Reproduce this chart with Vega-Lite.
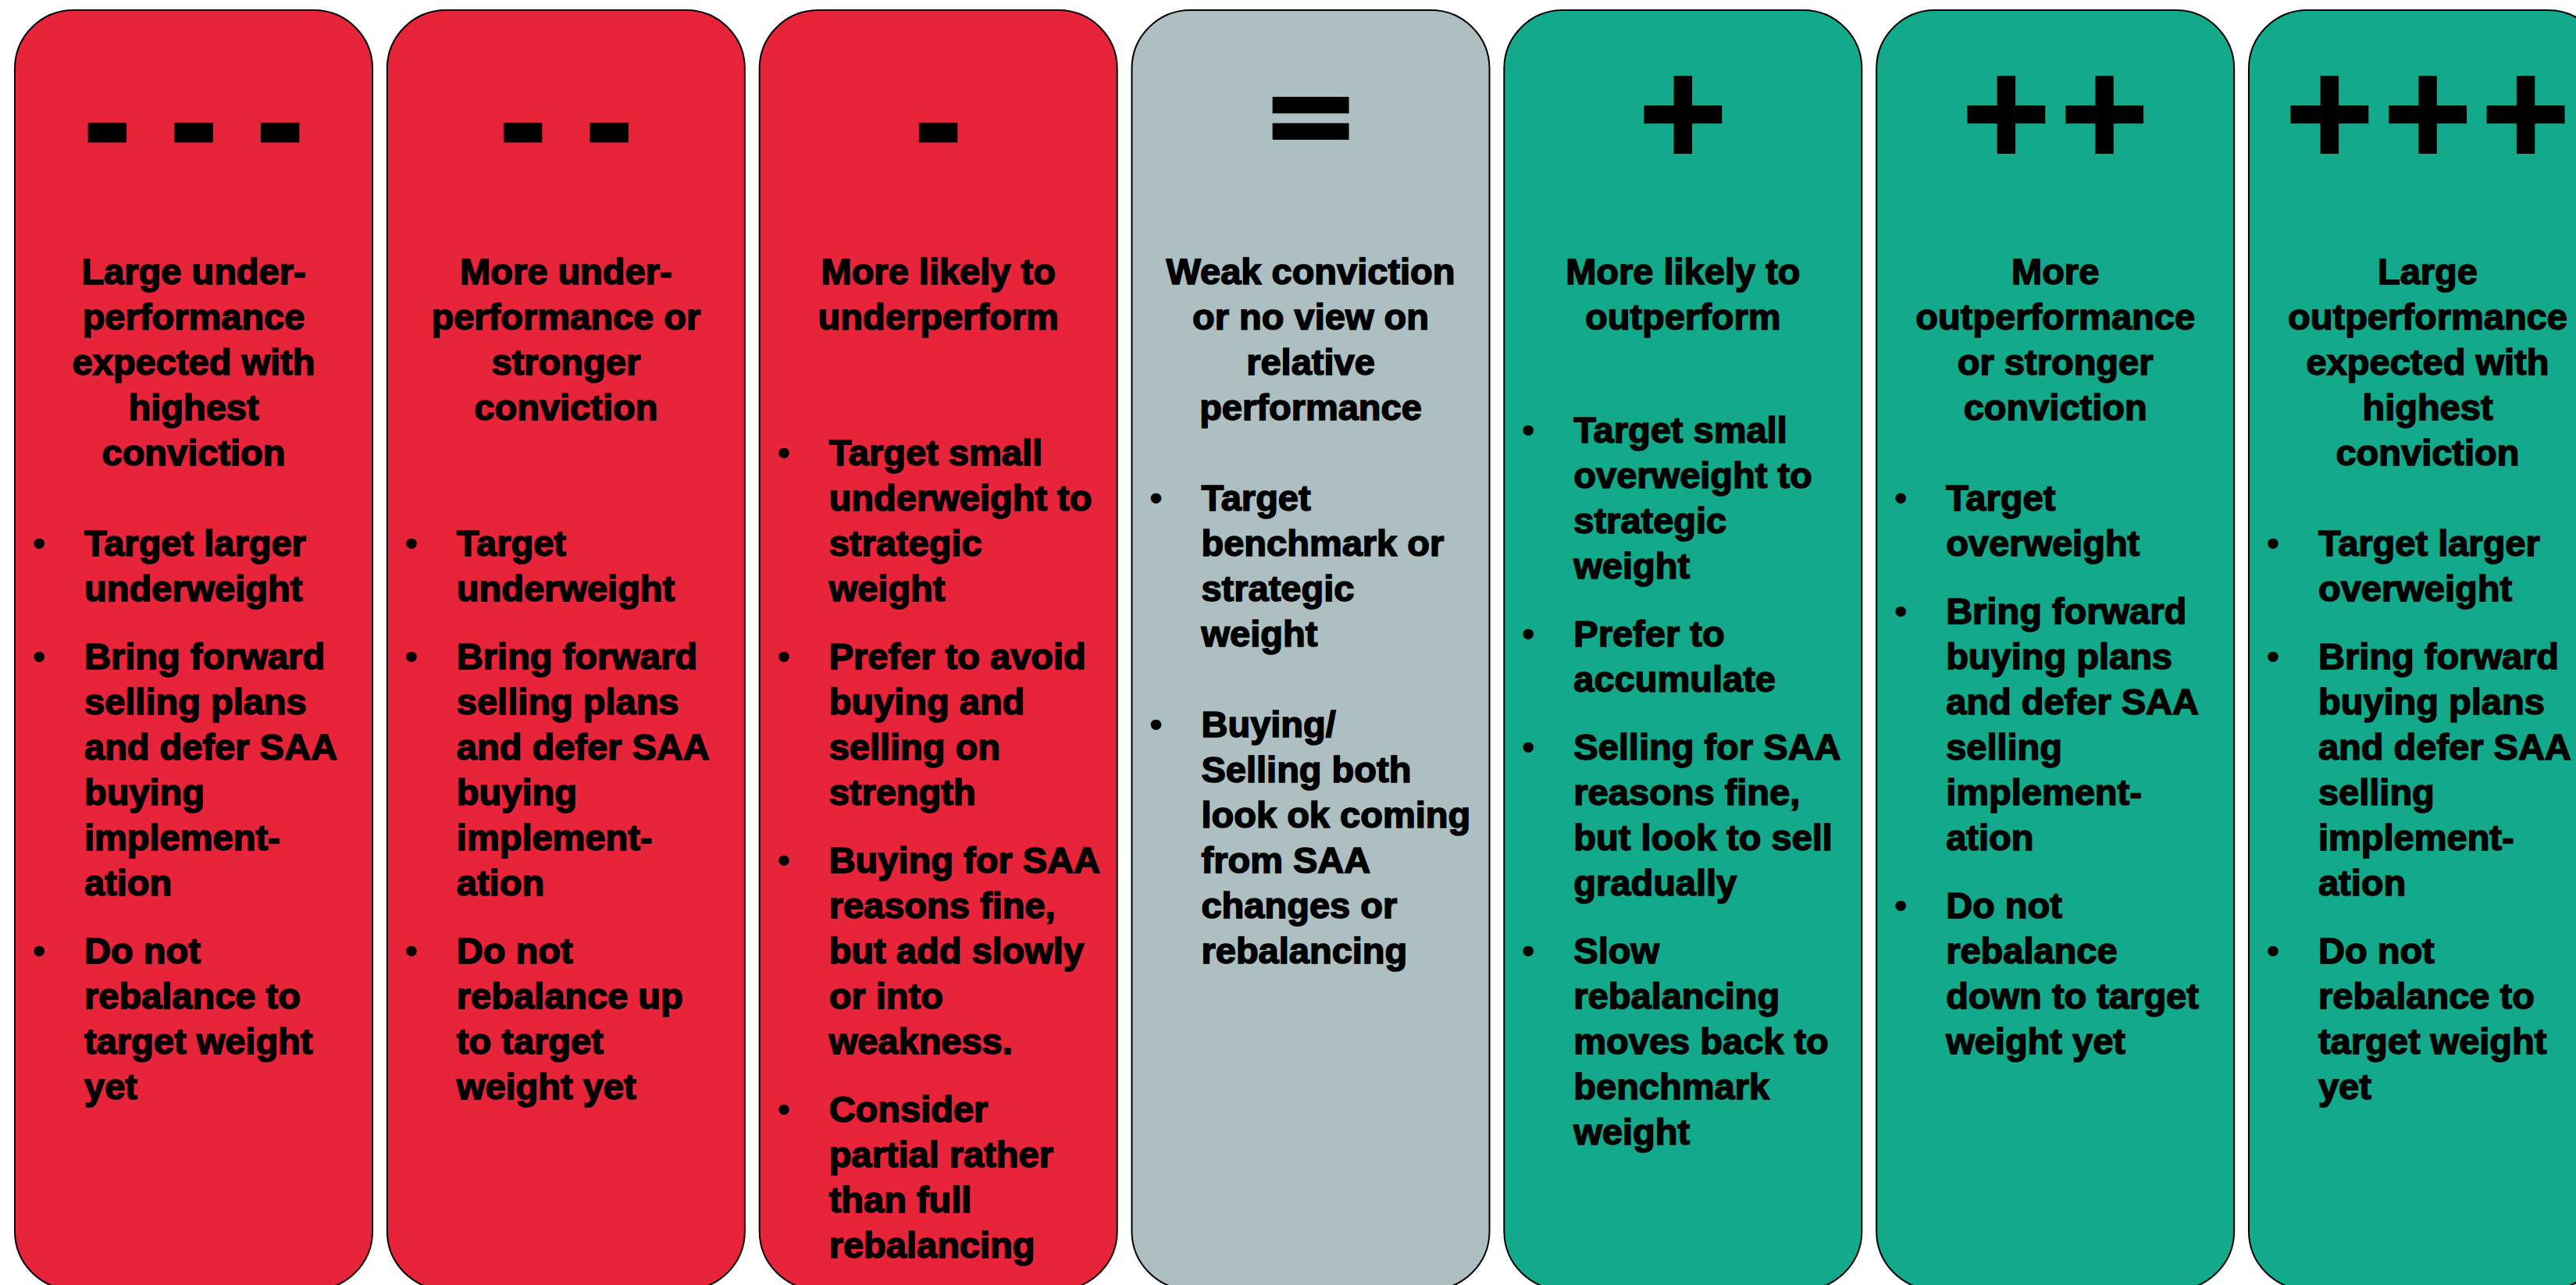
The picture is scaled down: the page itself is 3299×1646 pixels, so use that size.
{
  "$schema": "https://vega.github.io/schema/vega-lite/v6.json",
  "width": 3299,
  "height": 1646,
  "padding": 0,
  "autosize": {"type": "none"},
  "background": "white",
  "config": {"view": {"stroke": null}},
  "datasets": {
    "columns": [
      {"col": "- - -", "tone": "negative"},
      {"col": "- -", "tone": "negative"},
      {"col": "-", "tone": "negative"},
      {"col": "=", "tone": "neutral"},
      {"col": "+", "tone": "positive"},
      {"col": "++", "tone": "positive"},
      {"col": "+++", "tone": "positive"}
    ],
    "lines": [
      {"col": "- - -", "role": "head", "line": 0, "text": "Large under-"},
      {"col": "- - -", "role": "head", "line": 1, "text": "performance"},
      {"col": "- - -", "role": "head", "line": 2, "text": "expected with"},
      {"col": "- - -", "role": "head", "line": 3, "text": "highest"},
      {"col": "- - -", "role": "head", "line": 4, "text": "conviction"},
      {"col": "- - -", "role": "bullet", "start": true, "line": 6, "text": "Target larger"},
      {"col": "- - -", "role": "bullet", "line": 7, "text": "underweight"},
      {"col": "- - -", "role": "bullet", "start": true, "line": 8.5, "text": "Bring forward"},
      {"col": "- - -", "role": "bullet", "line": 9.5, "text": "selling plans"},
      {"col": "- - -", "role": "bullet", "line": 10.5, "text": "and defer SAA"},
      {"col": "- - -", "role": "bullet", "line": 11.5, "text": "buying"},
      {"col": "- - -", "role": "bullet", "line": 12.5, "text": "implement-"},
      {"col": "- - -", "role": "bullet", "line": 13.5, "text": "ation"},
      {"col": "- - -", "role": "bullet", "start": true, "line": 15, "text": "Do not"},
      {"col": "- - -", "role": "bullet", "line": 16, "text": "rebalance to"},
      {"col": "- - -", "role": "bullet", "line": 17, "text": "target weight"},
      {"col": "- - -", "role": "bullet", "line": 18, "text": "yet"},

      {"col": "- -", "role": "head", "line": 0, "text": "More under-"},
      {"col": "- -", "role": "head", "line": 1, "text": "performance or"},
      {"col": "- -", "role": "head", "line": 2, "text": "stronger"},
      {"col": "- -", "role": "head", "line": 3, "text": "conviction"},
      {"col": "- -", "role": "bullet", "start": true, "line": 6, "text": "Target"},
      {"col": "- -", "role": "bullet", "line": 7, "text": "underweight"},
      {"col": "- -", "role": "bullet", "start": true, "line": 8.5, "text": "Bring forward"},
      {"col": "- -", "role": "bullet", "line": 9.5, "text": "selling plans"},
      {"col": "- -", "role": "bullet", "line": 10.5, "text": "and defer SAA"},
      {"col": "- -", "role": "bullet", "line": 11.5, "text": "buying"},
      {"col": "- -", "role": "bullet", "line": 12.5, "text": "implement-"},
      {"col": "- -", "role": "bullet", "line": 13.5, "text": "ation"},
      {"col": "- -", "role": "bullet", "start": true, "line": 15, "text": "Do not"},
      {"col": "- -", "role": "bullet", "line": 16, "text": "rebalance up"},
      {"col": "- -", "role": "bullet", "line": 17, "text": "to target"},
      {"col": "- -", "role": "bullet", "line": 18, "text": "weight yet"},

      {"col": "-", "role": "head", "line": 0, "text": "More likely to"},
      {"col": "-", "role": "head", "line": 1, "text": "underperform"},
      {"col": "-", "role": "bullet", "start": true, "line": 4, "text": "Target small"},
      {"col": "-", "role": "bullet", "line": 5, "text": "underweight to"},
      {"col": "-", "role": "bullet", "line": 6, "text": "strategic"},
      {"col": "-", "role": "bullet", "line": 7, "text": "weight"},
      {"col": "-", "role": "bullet", "start": true, "line": 8.5, "text": "Prefer to avoid"},
      {"col": "-", "role": "bullet", "line": 9.5, "text": "buying and"},
      {"col": "-", "role": "bullet", "line": 10.5, "text": "selling on"},
      {"col": "-", "role": "bullet", "line": 11.5, "text": "strength"},
      {"col": "-", "role": "bullet", "start": true, "line": 13, "text": "Buying for SAA"},
      {"col": "-", "role": "bullet", "line": 14, "text": "reasons fine,"},
      {"col": "-", "role": "bullet", "line": 15, "text": "but add slowly"},
      {"col": "-", "role": "bullet", "line": 16, "text": "or into"},
      {"col": "-", "role": "bullet", "line": 17, "text": "weakness."},
      {"col": "-", "role": "bullet", "start": true, "line": 18.5, "text": "Consider"},
      {"col": "-", "role": "bullet", "line": 19.5, "text": "partial rather"},
      {"col": "-", "role": "bullet", "line": 20.5, "text": "than full"},
      {"col": "-", "role": "bullet", "line": 21.5, "text": "rebalancing"},

      {"col": "=", "role": "head", "line": 0, "text": "Weak conviction"},
      {"col": "=", "role": "head", "line": 1, "text": "or no view on"},
      {"col": "=", "role": "head", "line": 2, "text": "relative"},
      {"col": "=", "role": "head", "line": 3, "text": "performance"},
      {"col": "=", "role": "bullet", "start": true, "line": 5, "text": "Target"},
      {"col": "=", "role": "bullet", "line": 6, "text": "benchmark or"},
      {"col": "=", "role": "bullet", "line": 7, "text": "strategic"},
      {"col": "=", "role": "bullet", "line": 8, "text": "weight"},
      {"col": "=", "role": "bullet", "start": true, "line": 10, "text": "Buying/"},
      {"col": "=", "role": "bullet", "line": 11, "text": "Selling both"},
      {"col": "=", "role": "bullet", "line": 12, "text": "look ok coming"},
      {"col": "=", "role": "bullet", "line": 13, "text": "from SAA"},
      {"col": "=", "role": "bullet", "line": 14, "text": "changes or"},
      {"col": "=", "role": "bullet", "line": 15, "text": "rebalancing"},

      {"col": "+", "role": "head", "line": 0, "text": "More likely to"},
      {"col": "+", "role": "head", "line": 1, "text": "outperform"},
      {"col": "+", "role": "bullet", "start": true, "line": 3.5, "text": "Target small"},
      {"col": "+", "role": "bullet", "line": 4.5, "text": "overweight to"},
      {"col": "+", "role": "bullet", "line": 5.5, "text": "strategic"},
      {"col": "+", "role": "bullet", "line": 6.5, "text": "weight"},
      {"col": "+", "role": "bullet", "start": true, "line": 8, "text": "Prefer to"},
      {"col": "+", "role": "bullet", "line": 9, "text": "accumulate"},
      {"col": "+", "role": "bullet", "start": true, "line": 10.5, "text": "Selling for SAA"},
      {"col": "+", "role": "bullet", "line": 11.5, "text": "reasons fine,"},
      {"col": "+", "role": "bullet", "line": 12.5, "text": "but look to sell"},
      {"col": "+", "role": "bullet", "line": 13.5, "text": "gradually"},
      {"col": "+", "role": "bullet", "start": true, "line": 15, "text": "Slow"},
      {"col": "+", "role": "bullet", "line": 16, "text": "rebalancing"},
      {"col": "+", "role": "bullet", "line": 17, "text": "moves back to"},
      {"col": "+", "role": "bullet", "line": 18, "text": "benchmark"},
      {"col": "+", "role": "bullet", "line": 19, "text": "weight"},

      {"col": "++", "role": "head", "line": 0, "text": "More"},
      {"col": "++", "role": "head", "line": 1, "text": "outperformance"},
      {"col": "++", "role": "head", "line": 2, "text": "or stronger"},
      {"col": "++", "role": "head", "line": 3, "text": "conviction"},
      {"col": "++", "role": "bullet", "start": true, "line": 5, "text": "Target"},
      {"col": "++", "role": "bullet", "line": 6, "text": "overweight"},
      {"col": "++", "role": "bullet", "start": true, "line": 7.5, "text": "Bring forward"},
      {"col": "++", "role": "bullet", "line": 8.5, "text": "buying plans"},
      {"col": "++", "role": "bullet", "line": 9.5, "text": "and defer SAA"},
      {"col": "++", "role": "bullet", "line": 10.5, "text": "selling"},
      {"col": "++", "role": "bullet", "line": 11.5, "text": "implement-"},
      {"col": "++", "role": "bullet", "line": 12.5, "text": "ation"},
      {"col": "++", "role": "bullet", "start": true, "line": 14, "text": "Do not"},
      {"col": "++", "role": "bullet", "line": 15, "text": "rebalance"},
      {"col": "++", "role": "bullet", "line": 16, "text": "down to target"},
      {"col": "++", "role": "bullet", "line": 17, "text": "weight yet"},

      {"col": "+++", "role": "head", "line": 0, "text": "Large"},
      {"col": "+++", "role": "head", "line": 1, "text": "outperformance"},
      {"col": "+++", "role": "head", "line": 2, "text": "expected with"},
      {"col": "+++", "role": "head", "line": 3, "text": "highest"},
      {"col": "+++", "role": "head", "line": 4, "text": "conviction"},
      {"col": "+++", "role": "bullet", "start": true, "line": 6, "text": "Target larger"},
      {"col": "+++", "role": "bullet", "line": 7, "text": "overweight"},
      {"col": "+++", "role": "bullet", "start": true, "line": 8.5, "text": "Bring forward"},
      {"col": "+++", "role": "bullet", "line": 9.5, "text": "buying plans"},
      {"col": "+++", "role": "bullet", "line": 10.5, "text": "and defer SAA"},
      {"col": "+++", "role": "bullet", "line": 11.5, "text": "selling"},
      {"col": "+++", "role": "bullet", "line": 12.5, "text": "implement-"},
      {"col": "+++", "role": "bullet", "line": 13.5, "text": "ation"},
      {"col": "+++", "role": "bullet", "start": true, "line": 15, "text": "Do not"},
      {"col": "+++", "role": "bullet", "line": 16, "text": "rebalance to"},
      {"col": "+++", "role": "bullet", "line": 17, "text": "target weight"},
      {"col": "+++", "role": "bullet", "line": 18, "text": "yet"}
    ]
  },
  "layer": [
    {
      "data": {"name": "columns"},
      "mark": {"type": "rect", "cornerRadius": 75, "stroke": "#000000", "strokeWidth": 2, "clip": true},
      "encoding": {
        "x": {"field": "col", "type": "nominal", "axis": null,
              "scale": {"type": "band", "domain": ["- - -", "- -", "-", "=", "+", "++", "+++"], "range": [19, 3338], "paddingInner": 0.0394, "paddingOuter": 0}},
        "y": {"datum": -6.052, "type": "quantitative", "axis": null,
              "scale": {"domain": [-6.2759, 22.1034], "reverse": true, "nice": false, "zero": false}},
        "y2": {"datum": 22.207},
        "color": {"field": "tone", "type": "nominal", "legend": null,
                  "scale": {"domain": ["negative", "neutral", "positive"], "range": ["#E8243B", "#AEBFC2", "#13A98B"]}}
      }
    },
    {
      "data": {"name": "columns"},
      "transform": [{"filter": "datum.tone === 'negative'"}],
      "mark": {"type": "text", "font": "DejaVu Sans", "fontWeight": "bold", "fontSize": 145, "align": "center", "baseline": "alphabetic", "color": "#000000", "stroke": "#000000", "strokeWidth": 5, "clip": true},
      "encoding": {
        "x": {"field": "col", "type": "nominal"},
        "y": {"datum": -2.63, "type": "quantitative"},
        "text": {"field": "col"}
      }
    },
    {
      "data": {"name": "columns"},
      "transform": [{"filter": "datum.tone === 'neutral'"}],
      "mark": {"type": "text", "font": "DejaVu Sans", "fontWeight": "bold", "fontSize": 150, "align": "center", "baseline": "alphabetic", "color": "#000000", "stroke": "#000000", "strokeWidth": 4, "clip": true},
      "encoding": {
        "x": {"field": "col", "type": "nominal"},
        "y": {"datum": -2.85, "type": "quantitative"},
        "text": {"field": "col"}
      }
    },
    {
      "data": {"name": "columns"},
      "transform": [{"filter": "datum.tone === 'positive'"}],
      "mark": {"type": "text", "font": "DejaVu Sans", "fontWeight": "bold", "fontSize": 150, "align": "center", "baseline": "alphabetic", "color": "#000000", "stroke": "#000000", "strokeWidth": 6, "clip": true},
      "encoding": {
        "x": {"field": "col", "type": "nominal"},
        "y": {"datum": -2.93, "type": "quantitative"},
        "text": {"field": "col"}
      }
    },
    {
      "data": {"name": "lines"},
      "transform": [{"filter": "datum.role === 'head'"}],
      "mark": {"type": "text", "font": "Liberation Sans", "fontWeight": "bold", "fontSize": 47, "align": "center", "baseline": "alphabetic", "color": "#000000", "stroke": "#000000", "strokeWidth": 1.6, "clip": true},
      "encoding": {
        "x": {"field": "col", "type": "nominal"},
        "y": {"field": "line", "type": "quantitative"},
        "text": {"field": "text"}
      }
    },
    {
      "data": {"name": "lines"},
      "transform": [{"filter": "datum.role === 'bullet'"}],
      "mark": {"type": "text", "font": "Liberation Sans", "fontWeight": "bold", "fontSize": 47, "align": "left", "baseline": "alphabetic", "xOffset": 89, "color": "#000000", "stroke": "#000000", "strokeWidth": 1.6, "clip": true},
      "encoding": {
        "x": {"field": "col", "type": "nominal", "bandPosition": 0},
        "y": {"field": "line", "type": "quantitative"},
        "text": {"field": "text"}
      }
    },
    {
      "data": {"name": "lines"},
      "transform": [{"filter": "datum.start === true"}],
      "mark": {"type": "text", "font": "Liberation Sans", "fontWeight": "bold", "fontSize": 47, "align": "center", "baseline": "alphabetic", "xOffset": 31, "color": "#000000", "clip": true, "text": "•"},
      "encoding": {
        "x": {"field": "col", "type": "nominal", "bandPosition": 0},
        "y": {"field": "line", "type": "quantitative"}
      }
    }
  ]
}
